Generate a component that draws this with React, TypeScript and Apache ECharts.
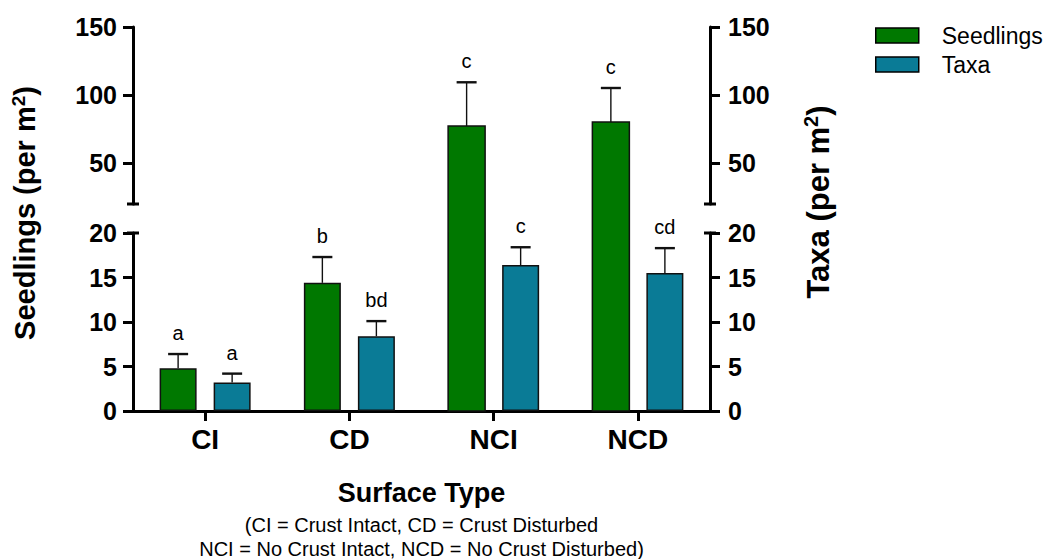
import { useEffect, useRef } from 'react';
import * as echarts from 'echarts';

// Data: mean density per m² by surface type, with SEM and significance letters
const categories = ['CI', 'CD', 'NCI', 'NCD'];
const seedlings = [4.8, 14.4, 77.3, 80.2];
const seedlingsSem = [1.6, 2.9, 32.1, 25.0];
const seedlingsLetters = ['a', 'b', 'c', 'c'];
const taxa = [3.2, 8.4, 16.4, 15.5];
const taxaSem = [1.0, 1.7, 2.0, 2.8];
const taxaLetters = ['a', 'bd', 'c', 'cd'];
const lowerTicks = [0, 5, 10, 15, 20];
const upperTicks = [50, 100, 150];
const LOWER_MAX = 20; // top of the lower axis segment
const UPPER_MIN = 20; // bottom of the upper axis segment
const UPPER_MAX = 150;

// Layout (pixels)
const LEFT = 133;
const RIGHT = 710;
const UP_TOP = 27;
const UP_BOTTOM = 204;
const LOW_TOP = 233;
const LOW_BOTTOM = 411;
const BAR_W = 37;
const BAR_GAP = 0.46;
const GREEN = '#007800';
const TEAL = '#0a7b96';
const INK = '#000';
const FONT = '"Liberation Sans", Arial, Helvetica, sans-serif';

// Hidden full-height axis that shares the upper segment's scale, used to draw tall bars
const FULL_MIN =
  UPPER_MAX - ((LOW_BOTTOM - UP_TOP) * (UPPER_MAX - UPPER_MIN)) / (UP_BOTTOM - UP_TOP);

function extras(
  name: string,
  values: number[],
  sems: number[],
  letters: string[],
  color: string,
  side: number,
  tall: boolean
) {
  return {
    type: 'custom',
    name,
    xAxisIndex: tall ? 2 : 1,
    yAxisIndex: tall ? 4 : 2,
    data: values.map((v, i) => [i, v, sems[i]]),
    encode: { x: 0, y: 1 },
    clip: false,
    silent: true,
    z: 3,
    renderItem: (params: any, api: any) => {
      const i = api.value(0);
      const v = api.value(1);
      const e = api.value(2);
      if (tall ? v <= LOWER_MAX : v > LOWER_MAX) return null;
      const base = api.coord([i, v]);
      const top = api.coord([i, v + e]);
      const cx = base[0] + (side * BAR_W * (1 + BAR_GAP)) / 2;
      const children: any[] = [];
      if (tall) {
        const cs = params.coordSys;
        const bottom = cs.y + cs.height;
        children.push({
          type: 'rect',
          shape: { x: cx - BAR_W / 2, y: base[1], width: BAR_W, height: bottom - base[1] },
          style: { fill: color, stroke: '#111', lineWidth: 1.5 },
        });
      }
      children.push({
        type: 'line',
        shape: { x1: cx, y1: base[1], x2: cx, y2: top[1] },
        style: { stroke: '#111', lineWidth: 1.4 },
      });
      children.push({
        type: 'line',
        shape: { x1: cx - 10, y1: top[1], x2: cx + 10, y2: top[1] },
        style: { stroke: '#111', lineWidth: 2.4 },
      });
      children.push({
        type: 'text',
        x: cx,
        y: top[1] - 11,
        style: {
          text: letters[params.dataIndex],
          fill: INK,
          fontSize: 20,
          fontFamily: FONT,
          align: 'center',
          verticalAlign: 'bottom',
        },
      });
      return { type: 'group', children };
    },
  };
}

function valueAxis(
  gridIndex: number,
  position: 'left' | 'right',
  min: number,
  max: number,
  ticks: number[]
) {
  return {
    type: 'value',
    gridIndex,
    position,
    min,
    max,
    axisLine: { show: true, lineStyle: { color: INK, width: 3 } },
    axisTick: {
      show: true,
      inside: false,
      length: 10,
      customValues: ticks,
      lineStyle: { color: INK, width: 3 },
    },
    axisLabel: {
      customValues: ticks,
      margin: position === 'left' ? 16 : 18,
      color: INK,
      fontSize: 25,
      fontWeight: 'bold',
      fontFamily: FONT,
    },
    splitLine: { show: false },
  };
}

const titleRich = (size: number) => ({
  t: { fontSize: size, fontWeight: 'bold', fontFamily: FONT, fill: INK, lineHeight: size + 4 },
  s: {
    fontSize: Math.round(size * 0.64),
    fontWeight: 'bold',
    fontFamily: FONT,
    fill: INK,
    verticalAlign: 'top',
    lineHeight: Math.round(size * 0.64),
  },
});

export default function App() {
  const ref = useRef<HTMLDivElement>(null);

  useEffect(() => {
    if (!ref.current) return;
    const chart = echarts.init(ref.current, undefined, { renderer: 'svg' });
    const plotW = RIGHT - LEFT;

    chart.setOption({
      animation: false,
      backgroundColor: '#fff',
      textStyle: { fontFamily: FONT },
      grid: [
        { left: LEFT, top: UP_TOP, width: plotW, height: UP_BOTTOM - UP_TOP, outerBoundsMode: 'none' },
        { left: LEFT, top: LOW_TOP, width: plotW, height: LOW_BOTTOM - LOW_TOP, outerBoundsMode: 'none' },
        { left: LEFT, top: UP_TOP, width: plotW, height: LOW_BOTTOM - UP_TOP, outerBoundsMode: 'none' },
      ],
      xAxis: [
        { type: 'category', gridIndex: 0, data: categories, show: false },
        {
          type: 'category',
          gridIndex: 1,
          data: categories,
          axisLine: { show: true, lineStyle: { color: INK, width: 3 } },
          axisTick: { show: true, alignWithLabel: true, length: 10, lineStyle: { color: INK, width: 3 } },
          axisLabel: { color: INK, fontSize: 28, fontWeight: 'bold', fontFamily: FONT, margin: 14 },
          splitLine: { show: false },
        },
        { type: 'category', gridIndex: 2, data: categories, show: false },
      ],
      yAxis: [
        valueAxis(0, 'left', UPPER_MIN, UPPER_MAX, upperTicks),
        valueAxis(0, 'right', UPPER_MIN, UPPER_MAX, upperTicks),
        { ...valueAxis(1, 'left', 0, LOWER_MAX, lowerTicks), interval: 5 },
        { ...valueAxis(1, 'right', 0, LOWER_MAX, lowerTicks), interval: 5 },
        { type: 'value', gridIndex: 2, min: FULL_MIN, max: UPPER_MAX, show: false, splitLine: { show: false } },
      ],
      legend: {
        data: ['Seedlings', 'Taxa'],
        orient: 'vertical',
        left: 875,
        top: 24,
        padding: 0,
        icon: 'rect',
        itemWidth: 43,
        itemHeight: 15,
        itemGap: 6,
        selectedMode: false,
        itemStyle: { borderColor: INK, borderWidth: 1.5 },
        textStyle: { color: INK, fontSize: 23, fontFamily: FONT, padding: [0, 0, 0, 18] },
      },
      series: [
        {
          type: 'bar',
          name: 'Seedlings',
          xAxisIndex: 1,
          yAxisIndex: 2,
          data: seedlings,
          barWidth: BAR_W,
          barGap: `${BAR_GAP * 100}%`,
          clip: true,
          itemStyle: { color: GREEN, borderColor: '#111', borderWidth: 1.5 },
        },
        {
          type: 'bar',
          name: 'Taxa',
          xAxisIndex: 1,
          yAxisIndex: 2,
          data: taxa,
          barWidth: BAR_W,
          barGap: `${BAR_GAP * 100}%`,
          clip: true,
          itemStyle: { color: TEAL, borderColor: '#111', borderWidth: 1.5 },
        },
        extras('Seedlings', seedlings, seedlingsSem, seedlingsLetters, GREEN, -1, true),
        extras('Taxa', taxa, taxaSem, taxaLetters, TEAL, 1, true),
        extras('Seedlings', seedlings, seedlingsSem, seedlingsLetters, GREEN, -1, false),
        extras('Taxa', taxa, taxaSem, taxaLetters, TEAL, 1, false),
      ],
      graphic: [
        // axis break caps
        ...[LEFT, RIGHT].flatMap((x) => [
          { type: 'line', shape: { x1: x - 6, y1: UP_BOTTOM, x2: x + 6, y2: UP_BOTTOM }, style: { stroke: INK, lineWidth: 3 } },
          { type: 'line', shape: { x1: x - 6, y1: LOW_TOP, x2: x + 6, y2: LOW_TOP }, style: { stroke: INK, lineWidth: 3 } },
        ]),
        {
          type: 'text',
          x: 25,
          y: 213,
          rotation: Math.PI / 2,
          style: {
            text: '{t|Seedlings (per m}{s|2}{t|)}',
            rich: titleRich(29),
            align: 'center',
            verticalAlign: 'middle',
          },
        },
        {
          type: 'text',
          x: 818,
          y: 202,
          rotation: Math.PI / 2,
          style: {
            text: '{t|Taxa (per m}{s|2}{t|)}',
            rich: titleRich(31),
            align: 'center',
            verticalAlign: 'middle',
          },
        },
        {
          type: 'text',
          x: (LEFT + RIGHT) / 2,
          y: 493,
          style: {
            text: 'Surface Type',
            fill: INK,
            fontSize: 27,
            fontWeight: 'bold',
            fontFamily: FONT,
            align: 'center',
            verticalAlign: 'middle',
          },
        },
        {
          type: 'text',
          x: (LEFT + RIGHT) / 2,
          y: 525,
          style: {
            text: '(CI = Crust Intact, CD = Crust Disturbed',
            fill: INK,
            fontSize: 20,
            fontFamily: FONT,
            align: 'center',
            verticalAlign: 'middle',
          },
        },
        {
          type: 'text',
          x: (LEFT + RIGHT) / 2,
          y: 549,
          style: {
            text: 'NCI = No Crust Intact, NCD = No Crust Disturbed)',
            fill: INK,
            fontSize: 20,
            fontFamily: FONT,
            align: 'center',
            verticalAlign: 'middle',
          },
        },
      ],
    });

    return () => chart.dispose();
  }, []);

  return (
    <div
      ref={ref}
      style={{ position: 'fixed', left: 0, top: 0, width: 1062, height: 559, background: '#fff' }}
    />
  );
}
